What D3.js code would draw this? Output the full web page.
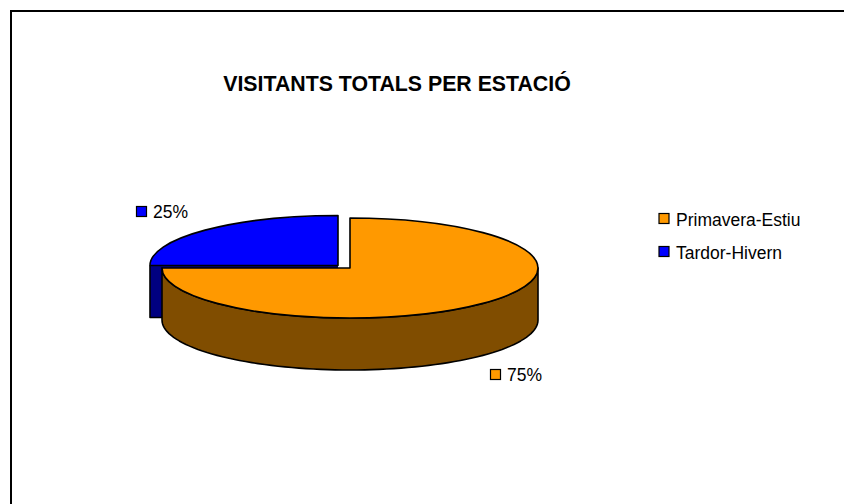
<!DOCTYPE html>
<html><head><meta charset="utf-8">
<script src="https://cdn.jsdelivr.net/npm/d3@7"></script>
<style>html,body{margin:0;padding:0;background:#fff}svg{display:block}text{font-family:"Liberation Sans",Arial,sans-serif;fill:#000}</style>
</head><body><svg id="c" width="844" height="504"></svg>
<script>
const categories = ["Primavera-Estiu", "Tardor-Hivern"];
const seriesValues = [75, 25];
const sliceColors = ["#FF9900", "#0000FF"];
const sideColors = ["#804D00", "#000080"];
const chartTitle = "VISITANTS TOTALS PER ESTACIÓ";

const W=844,H=504, rx=188, ry=50, depth=52;
const centers=[[350,268],[338,265.5]];
const svg=d3.select("#c");
svg.append("rect").attr("x",11).attr("y",11).attr("width",W+20).attr("height",H+20).attr("fill","#fff").attr("stroke","#000").attr("stroke-width",2);
svg.append("text").attr("x",397).attr("y",91).attr("text-anchor","middle").attr("font-size",21.3).attr("font-weight","bold").text(chartTitle);

const pie=d3.pie().sort(null).value(d=>d);
const arcs=pie(seriesValues);
const arc=d3.arc().innerRadius(0).outerRadius(rx);
const pt=(a,c,dy=0)=>[c[0]+rx*Math.sin(a),c[1]-ry*Math.cos(a)+dy];
const line=d3.line();
function side(a0,a1,c){
  const n=80, top=d3.range(n+1).map(i=>pt(a0+(a1-a0)*i/n,c));
  const bot=top.map(p=>[p[0],p[1]+depth]).reverse();
  return line(top.concat(bot))+"Z";
}
const layer=svg.append("g").attr("stroke","#000").attr("stroke-width",1.6).attr("stroke-linejoin","round");
// Blue wedge first: it sits behind the orange one
[1,0].forEach(i=>{
  const d=arcs[i],c=centers[i];
  if(i===1){
    // visible outer wall of the exploded wedge, limited by the orange wall
    const [x0,y0]=pt(d.startAngle,c);
    layer.append("path").attr("fill",sideColors[i]).attr("stroke","none")
      .attr("d",line([[x0,y0],[c[0],y0],[c[0],y0+4],[x0+14,y0+4],[x0+14,y0+depth],[x0,y0+depth]])+"Z");
    layer.append("path").attr("fill","none").attr("d",line([[x0,y0],[x0,y0+depth],[x0+14,y0+depth]]));
    layer.append("path").attr("fill",sliceColors[i]).attr("transform",`translate(${c}) scale(1,${ry/rx})`)
      .attr("vector-effect","non-scaling-stroke").attr("d",arc(d));
  } else {
    layer.append("path").attr("fill",sideColors[i]).attr("d",side(Math.PI/2,d.endAngle,c));
    layer.append("path").attr("fill",sliceColors[i]).attr("transform",`translate(${c}) scale(1,${ry/rx})`)
      .attr("vector-effect","non-scaling-stroke").attr("d",arc(d));
  }
});
function key(g,x,y,col,size){
  g.append("rect").attr("x",x).attr("y",y).attr("width",size).attr("height",size).attr("fill",col).attr("stroke","#000").attr("stroke-width",1.2);
}
const labels=svg.append("g").attr("font-size",17.5);
[[490,369],[136,206]].forEach((p,i)=>{
  key(labels,p[0]+.5,p[1]+.5,sliceColors[i],10);
  labels.append("text").attr("x",p[0]+17).attr("y",p[1]+11.5).text(d3.format(".0%")(seriesValues[i]/d3.sum(seriesValues)));
});
const legend=svg.append("g").attr("font-size",17.5);
categories.forEach((t,i)=>{
  const y=214+i*33-0;
  key(legend,659,y-.5+(i?0:0),sliceColors[i],10);
  legend.append("text").attr("x",676).attr("y",y+12).text(t);
});
</script></body></html>
